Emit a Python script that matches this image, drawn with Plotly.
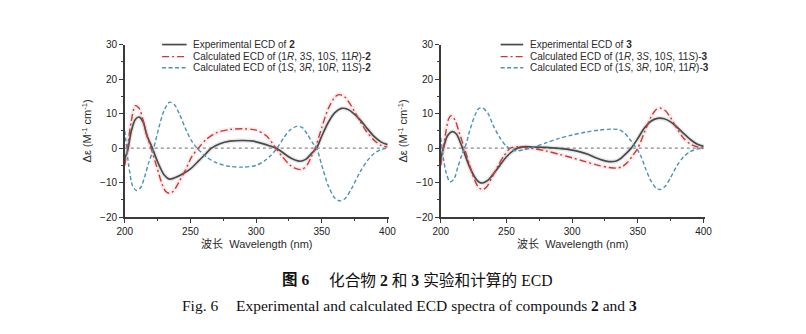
import plotly.graph_objects as go

# ---------------- data (compound 2, left panel) ----------------
exp2_x = [200, 202, 205, 208, 211, 214, 217, 221, 225, 230, 234, 238, 244, 250, 256, 262, 266, 272, 280, 290, 298, 305, 310, 315, 320, 326, 333, 338, 342, 346, 350, 355, 360, 365, 370, 375, 380, 385, 390, 395, 400]
exp2_y = [-3, -1, 5, 8.3, 9.0, 7.5, 3.5, 0, -4, -7.8, -9.0, -8.6, -7.5, -6, -3.8, -1.5, 0, 1.2, 2.0, 2.2, 2.0, 1.3, 0.7, 0, -1.2, -2.8, -3.8, -3.2, -1.6, 0, 3.5, 7.5, 10.3, 11.5, 11.2, 9.8, 7.8, 5.5, 3.3, 1.8, 1.0]

red2_x = [200, 202, 205, 208, 211, 214, 217, 220, 224, 228, 231, 234, 237, 241, 246, 251, 256, 262, 270, 280, 290, 300, 308, 315, 320, 326, 331, 335, 339, 342, 345, 350, 355, 360, 363, 367, 372, 378, 384, 390, 395, 400]
red2_y = [-5, 0, 8, 12.3, 11.5, 8, 3.5, 0, -5, -10, -12.5, -13.1, -12.5, -10, -6.5, -2.5, 0, 2.5, 4.5, 5.4, 5.6, 5.2, 3.5, 0, -2.5, -5, -6, -6.2, -4.8, -2.5, 0, 6, 11.5, 14.8, 15.5, 15, 12.5, 8.5, 4.8, 2.2, 0.8, 0.3]

blue2_x = [200, 203, 206, 209, 212, 215, 218, 222, 226, 230, 234, 238, 242, 247, 251, 255, 262, 270, 280, 290, 300, 306, 311, 316, 321, 326, 331, 335, 339, 343, 346, 350, 355, 360, 364, 368, 373, 379, 385, 390, 395, 400]
blue2_y = [5, -5, -11, -12.3, -11.5, -8.5, -4.5, 0, 6, 11, 13.3, 12.5, 9.5, 5, 2, 0, -2.5, -4.3, -5.3, -5.5, -5, -3.8, -2.2, 0, 3, 5.3, 6.3, 6, 4, 1.5, 0, -5, -11, -14.5, -15.3, -14.5, -11.5, -7, -3.5, -1.5, -0.4, 0]

# ---------------- data (compound 3, right panel) ----------------
exp3_x = [200, 202, 205, 209, 212, 215, 218, 222, 226, 229, 232, 236, 240, 245, 250, 255, 260, 265, 270, 280, 290, 300, 306, 312, 318, 323, 328, 333, 337, 341, 345, 350, 355, 360, 365, 370, 375, 380, 385, 390, 395, 400]
exp3_y = [-3, 0, 3.5, 4.8, 4, 1.5, -1.5, -5.5, -8.5, -9.8, -10.1, -9.3, -7.5, -5, -2.5, -0.8, 0.2, 0.4, 0.3, 0.2, -0.1, -0.6, -1.1, -1.8, -2.8, -3.5, -3.9, -3.8, -3.0, -1.6, 0, 2.8, 5.8, 7.8, 8.6, 8.5, 7.6, 6, 4.2, 2.5, 1.2, 0.5]

red3_x = [200, 202, 204, 206, 208, 211, 214, 218, 222, 226, 229, 232, 235, 239, 243, 248, 253, 258, 263, 270, 280, 290, 300, 310, 320, 328, 334, 338, 342, 346, 350, 355, 360, 364, 367, 371, 375, 380, 385, 390, 395, 400]
red3_y = [-5, 0, 5, 8.5, 9.4, 8, 4.5, 0, -5, -9.5, -11.5, -12, -11.2, -8.5, -5.5, -2.3, 0, 0.4, 0.2, -0.1, -0.8, -1.8, -2.8, -3.9, -5.0, -5.6, -5.8, -5.4, -4.2, -2.2, 0, 4.5, 9, 11.2, 11.6, 10.8, 8.8, 5.5, 2.8, 1.2, 0.4, 0]

blue3_x = [200, 202, 204, 207, 210, 213, 216, 219, 222, 226, 229, 232, 236, 240, 245, 250, 254, 258, 263, 270, 280, 290, 300, 310, 320, 330, 336, 340, 344, 348, 352, 356, 360, 364, 367, 371, 375, 380, 385, 390, 395, 400]
blue3_y = [3, -3, -7, -9.8, -9, -5.5, -2, 0.8, 5, 9.5, 11.5, 11.6, 10, 6.5, 3, 0.5, -0.5, -0.8, -0.5, 0.2, 1.5, 2.8, 3.8, 4.6, 5.2, 5.5, 5.3, 4.3, 2.5, 0.5, -2, -6, -9.5, -11.6, -12, -11, -8.5, -5, -2.5, -1, -0.3, 0]

names2 = ["Experimental ECD of <b>2</b>",
          "Calculated ECD of (1<i>R</i>, 3<i>S</i>, 10<i>S</i>, 11<i>R</i>)-<b>2</b>",
          "Calculated ECD of (1<i>S</i>, 3<i>R</i>, 10<i>R</i>, 11<i>S</i>)-<b>2</b>"]
names3 = ["Experimental ECD of <b>3</b>",
          "Calculated ECD of (1<i>R</i>, 3<i>S</i>, 10<i>S</i>, 11<i>S</i>)-<b>3</b>",
          "Calculated ECD of (1<i>S</i>, 3<i>R</i>, 10<i>R</i>, 11<i>R</i>)-<b>3</b>"]

x_ticks = [200, 250, 300, 350, 400]
y_ticks = [-20, -10, 0, 10, 20, 30]

BLACK = "#4a4a4a"
RED = "#c83a3a"
BLUE = "#4a92b6"
AXC = "#3a3a3a"
FONT = "Liberation Sans, Arial, sans-serif"
H = 334.0
W = 806.0

STYLES = [(BLACK, "solid", 1.7, "rgba(170,170,170,0.25)"),
          (RED, "7px,3px,2px,3px", 1.4, "rgba(235,170,170,0.2)"),
          (BLUE, "4px,2.5px", 1.4, None)]

fig = go.Figure()

def add_panel(xa, ya, series, names, leg_line_x, leg_text_x):
    for (sx, sy), (c, d, w, halo) in zip(series, STYLES):
        if halo:
            fig.add_trace(go.Scatter(x=sx, y=sy, mode="lines", xaxis=xa, yaxis=ya,
                                     line=dict(color=halo, width=4.5, shape="spline", smoothing=0.8),
                                     showlegend=False, hoverinfo="skip"))
    for (sx, sy), nm, (c, d, w, halo) in zip(series, names, STYLES):
        fig.add_trace(go.Scatter(x=sx, y=sy, mode="lines", xaxis=xa, yaxis=ya, name=nm,
                                 showlegend=False,
                                 line=dict(color=c, width=w, dash=d, shape="spline", smoothing=0.8)))
    # hand-drawn legend (compact, as in the reference)
    rows = [40, 52.5, 64]
    for ry, nm, (c, d, w, halo) in zip(rows, names, STYLES):
        fig.add_shape(type="line", xref="paper", yref="paper",
                      x0=leg_line_x[0] / W, x1=leg_line_x[1] / W, y0=1 - ry / H, y1=1 - ry / H,
                      line=dict(color=c, width=w, dash=d))
        fig.add_annotation(xref="paper", yref="paper", x=leg_text_x / W, y=1 - ry / H,
                           xanchor="left", yanchor="middle", showarrow=False, text=nm,
                           font=dict(family=FONT, size=10, color="#2a2a2a"))

add_panel("x", "y", [(exp2_x, exp2_y), (red2_x, red2_y), (blue2_x, blue2_y)], names2,
          (157, 182), 186)
add_panel("x2", "y2", [(exp3_x, exp3_y), (red3_x, red3_y), (blue3_x, blue3_y)], names3,
          (502, 525), 530)

ydom = [1 - 219 / H, 1 - 40 / H]

def xaxis(dom, anchor):
    return dict(domain=dom, anchor=anchor, range=[200, 401], tickvals=x_ticks,
                ticks="outside", ticklen=4, tickwidth=1.2, tickcolor=AXC,
                showline=True, linecolor=AXC, linewidth=1.5, showgrid=False, zeroline=False,
                minor=dict(dtick=25, tick0=200, ticks="outside", ticklen=2.5, tickcolor=AXC, showgrid=False),
                tickfont=dict(family=FONT, size=10, color="#222"),
                title=dict(text="波长  Wavelength (nm)", font=dict(family="Liberation Sans, Noto Sans CJK SC", size=11, color="#2a2a2a"), standoff=4))

def yaxis(dom, anchor):
    return dict(domain=dom, anchor=anchor, range=[-20, 30], tickvals=y_ticks,
                ticks="outside", ticklen=4, tickwidth=1.2, tickcolor=AXC,
                showline=True, linecolor=AXC, linewidth=1.5, showgrid=False, zeroline=False,
                minor=dict(dtick=5, tick0=0, ticks="outside", ticklen=2.5, tickcolor=AXC, showgrid=False),
                tickfont=dict(family=FONT, size=10, color="#222"),
                title=dict(text="Δε (M<sup>-1</sup> cm<sup>-1</sup>)", font=dict(family=FONT, size=11, color="#2a2a2a"), standoff=6))

fig.update_layout(
    width=806, height=334, margin=dict(l=0, r=0, t=0, b=0),
    paper_bgcolor="white", plot_bgcolor="white", showlegend=False,
    xaxis=xaxis([119 / W, 388 / W], "y"),
    yaxis=yaxis(ydom, "x"),
    xaxis2=xaxis([441 / W, 710 / W], "y2"),
    yaxis2=yaxis(ydom, "x2"),
)

for xr, yr in (("x", "y"), ("x2", "y2")):
    fig.add_shape(type="line", xref=f"{xr} domain", yref=yr, x0=0, x1=0.995, y0=0, y1=0,
                  line=dict(color="#888", width=1.2, dash="dot"), layer="below")

CAP_CN = "Liberation Serif, Noto Sans CJK SC"
fig.add_annotation(xref="paper", yref="paper", x=277 / W, y=1 - 284 / H, xanchor="left", yanchor="middle",
                   showarrow=False, text="<b>图 6</b>",
                   font=dict(family=CAP_CN, size=15.5, color="#111"))
fig.add_annotation(xref="paper", yref="paper", x=325 / W, y=1 - 284 / H, xanchor="left", yanchor="middle",
                   showarrow=False, text="化合物 <b>2</b> 和 <b>3</b> 实验和计算的 ECD",
                   font=dict(family=CAP_CN, size=15.7, color="#111"))
fig.add_annotation(xref="paper", yref="paper", x=175 / W, y=1 - 311 / H, xanchor="left", yanchor="middle",
                   showarrow=False, text="Fig. 6",
                   font=dict(family="Liberation Serif, serif", size=15.5, color="#111"))
fig.add_annotation(xref="paper", yref="paper", x=230 / W, y=1 - 311 / H, xanchor="left", yanchor="middle",
                   showarrow=False,
                   text="Experimental and calculated ECD spectra of compounds <b>2</b> and <b>3</b>",
                   font=dict(family="Liberation Serif, serif", size=15.5, color="#111"))

fig.write_html("out.html")
